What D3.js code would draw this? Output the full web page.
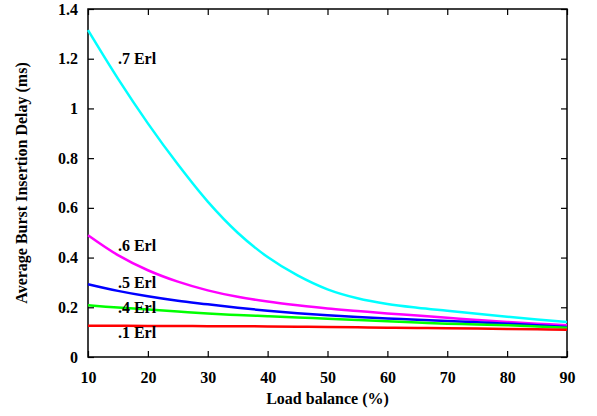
<!DOCTYPE html>
<html>
<head>
<meta charset="utf-8">
<script src="https://cdn.jsdelivr.net/npm/d3@7"></script>
<style>
  body { margin: 0; background: #fff; }
</style>
</head>
<body>
<div id="chart"></div>
<script>
// load balance (%) sample points
var loadBalance = [10, 15, 20, 25, 30, 35, 40, 45, 50, 55, 60, 65, 70, 75, 80, 85, 90];

// average burst insertion delay (ms), one array per load
var erl07 = [1.315, 1.120, 0.940, 0.775, 0.625, 0.500, 0.402, 0.328, 0.272, 0.236, 0.213, 0.198, 0.186, 0.174, 0.162, 0.151, 0.141];
var erl06 = [0.490, 0.410, 0.349, 0.303, 0.268, 0.242, 0.223, 0.208, 0.195, 0.185, 0.175, 0.167, 0.158, 0.149, 0.141, 0.134, 0.128];
var erl05 = [0.293, 0.266, 0.244, 0.226, 0.212, 0.198, 0.186, 0.176, 0.168, 0.161, 0.155, 0.150, 0.145, 0.140, 0.134, 0.128, 0.121];
var erl04 = [0.208, 0.199, 0.191, 0.183, 0.175, 0.169, 0.164, 0.159, 0.154, 0.149, 0.144, 0.139, 0.134, 0.131, 0.128, 0.123, 0.118];
var erl01 = [0.126, 0.1255, 0.125, 0.1245, 0.124, 0.1235, 0.123, 0.122, 0.121, 0.1195, 0.118, 0.117, 0.116, 0.1145, 0.113, 0.1115, 0.110];

var seriesNames = [".7 Erl", ".6 Erl", ".5 Erl", ".4 Erl", ".1 Erl"];
var seriesValues = [erl07, erl06, erl05, erl04, erl01];
var seriesColors = ["#00ffff", "#ff00ff", "#0000ff", "#00ff00", "#ff0000"];

// where each curve's label sits, in data units
var labelX = [15, 15, 15, 15, 15];
var labelY = [1.2, 0.45, 0.3, 0.2, 0.1];

var xTicks = [10, 20, 30, 40, 50, 60, 70, 80, 90];
var yTicks = [0, 0.2, 0.4, 0.6, 0.8, 1, 1.2, 1.4];

var font = "'Liberation Serif', 'Times New Roman', Times, 'DejaVu Serif', serif";

var width = 597, height = 416;
var margin = {top: 9, right: 30, bottom: 59, left: 88};

var svg = d3.select("#chart")
  .append("svg")
  .attr("width", width)
  .attr("height", height);

var x = d3.scaleLinear()
  .domain([10, 90])
  .range([margin.left, width - margin.right]);

var y = d3.scaleLinear()
  .domain([0, 1.4])
  .range([height - margin.bottom, margin.top]);

var tickLen = 6;

// axes: gnuplot style, ticks inside and mirrored
svg.append("g")
  .attr("transform", `translate(0,${height - margin.bottom})`)
  .call(d3.axisBottom(x).tickValues(xTicks).tickSize(-tickLen).tickPadding(tickLen + 9).tickFormat(d3.format("d")))
  .call(g => g.select(".domain").remove());

svg.append("g")
  .attr("transform", `translate(0,${margin.top})`)
  .call(d3.axisTop(x).tickValues(xTicks).tickSize(-tickLen).tickFormat(""))
  .call(g => g.select(".domain").remove());

svg.append("g")
  .attr("transform", `translate(${margin.left},0)`)
  .call(d3.axisLeft(y).tickValues(yTicks).tickSize(-tickLen).tickPadding(tickLen + 4).tickFormat(d => String(+d.toFixed(1))))
  .call(g => g.select(".domain").remove());

svg.append("g")
  .attr("transform", `translate(${width - margin.right},0)`)
  .call(d3.axisRight(y).tickValues(yTicks).tickSize(-tickLen).tickFormat(""))
  .call(g => g.select(".domain").remove());

svg.selectAll(".tick line").attr("stroke", "#000").attr("stroke-width", 1.2);

// frame
svg.append("rect")
  .attr("x", margin.left)
  .attr("y", margin.top)
  .attr("width", width - margin.left - margin.right)
  .attr("height", height - margin.top - margin.bottom)
  .attr("fill", "none")
  .attr("stroke", "#000")
  .attr("stroke-width", 1.5);

// curves
var line = d3.line()
  .x((d, i) => x(loadBalance[i]))
  .y(d => y(d))
  .curve(d3.curveCatmullRom.alpha(0.5));

svg.append("g")
  .selectAll("path")
  .data(seriesValues)
  .join("path")
  .attr("fill", "none")
  .attr("stroke", (d, i) => seriesColors[i])
  .attr("stroke-width", 2.5)
  .attr("d", line);

// curve labels
svg.append("g")
  .selectAll("text")
  .data(seriesNames)
  .join("text")
  .attr("x", (d, i) => x(labelX[i]))
  .attr("y", (d, i) => y(labelY[i]))
  .attr("dy", "0.35em")
  .text(d => d);

// axis titles
svg.append("text")
  .attr("x", (margin.left + width - margin.right) / 2)
  .attr("y", 404)
  .attr("text-anchor", "middle")
  .text("Load balance (%)");

svg.append("text")
  .attr("transform", `translate(27,${(margin.top + height - margin.bottom) / 2}) rotate(-90)`)
  .attr("text-anchor", "middle")
  .text("Average Burst Insertion Delay (ms)");

// every text in one serif bold face, like the gnuplot output
svg.selectAll("g").attr("font-family", null);
svg.selectAll("text")
  .attr("font-family", font)
  .attr("font-weight", "bold")
  .attr("font-size", 16)
  .attr("fill", "#000");
</script>
</body>
</html>
